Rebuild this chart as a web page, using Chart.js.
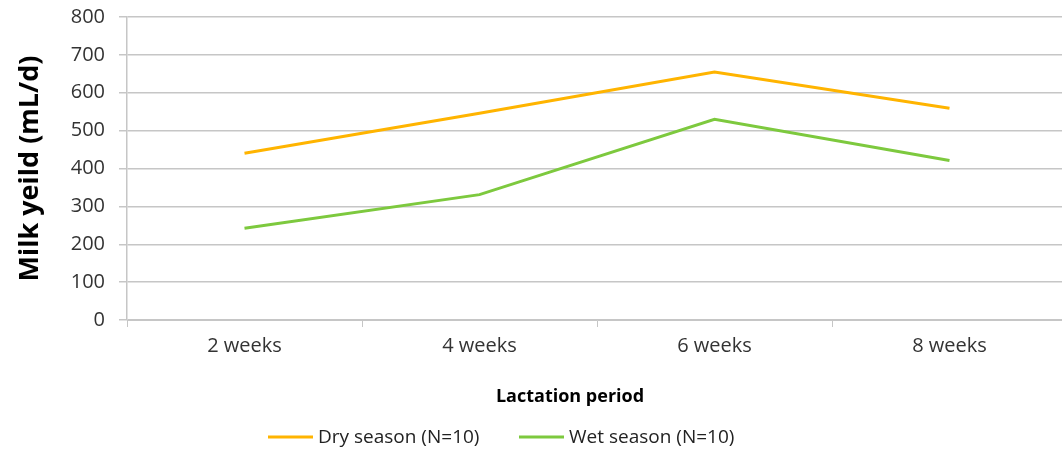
<!DOCTYPE html>
<html>
<head>
<meta charset="utf-8">
<script src="https://cdn.jsdelivr.net/npm/chart.js@4.4.0/dist/chart.umd.min.js"></script>
<style>
html,body{margin:0;padding:0;background:#fff;overflow:hidden;}
#wrap{width:1075px;height:454px;}
</style>
</head>
<body>
<div id="wrap"><canvas id="c" width="1075" height="454"></canvas></div>
<script>
const categories = ["2 weeks", "4 weeks", "6 weeks", "8 weeks"];
const drySeason = [440, 546, 655, 559];
const wetSeason = [242, 331, 530, 421];
const yTicks = [0, 100, 200, 300, 400, 500, 600, 700, 800];
const seriesNames = ["Dry season (N=10)", "Wet season (N=10)"];
const seriesColors = ["#FFB400", "#7DC93E"];
const xTitle = "Lactation period";
const yTitle = "Milk yeild (mL/d)";

const FONT = "'Open Sans', 'DejaVu Sans', sans-serif";
const gridColor = "#c6c6c6";

const customLegend = {
  id: "customLegend",
  afterDraw(chart) {
    const ctx = chart.ctx;
    ctx.save();
    ctx.font = "bold 18px " + FONT;
    ctx.fillStyle = "#000";
    ctx.textAlign = "center";
    ctx.textBaseline = "middle";
    ctx.fillText(xTitle, 570, 397);
    ctx.font = "19px " + FONT;
    ctx.textAlign = "left";
    let x = 268;
    chart.data.datasets.forEach((ds, i) => {
      ctx.strokeStyle = ds.borderColor;
      ctx.lineWidth = 3;
      ctx.beginPath();
      ctx.moveTo(x, 437);
      ctx.lineTo(x + 45, 437);
      ctx.stroke();
      ctx.fillStyle = "#222";
      ctx.fillText(ds.label, x + 50, 438);
      x = 519;
    });
    ctx.restore();
  }
};

new Chart(document.getElementById("c"), {
  type: "line",
  data: {
    labels: categories,
    datasets: [
      { label: seriesNames[0], data: drySeason, borderColor: seriesColors[0], backgroundColor: seriesColors[0], borderWidth: 3, pointRadius: 0, tension: 0 },
      { label: seriesNames[1], data: wetSeason, borderColor: seriesColors[1], backgroundColor: seriesColors[1], borderWidth: 3, pointRadius: 0, tension: 0 }
    ]
  },
  options: {
    responsive: false,
    animation: false,
    layout: { padding: { top: 17, right: 8, left: 0, bottom: 0 } },
    plugins: { legend: { display: false }, tooltip: { enabled: false } },
    scales: {
      x: {
        offset: true,
        grid: { offset: true, drawOnChartArea: false, drawTicks: true, tickLength: 7, color: gridColor, lineWidth: 1 },
        border: { display: true, color: gridColor, width: 1 },
        ticks: { font: { family: FONT, size: 20 }, color: "#333", padding: 7, maxRotation: 0 },
        afterFit(scale) { scale.height = 134; scale.paddingLeft = 0; scale.paddingRight = 0; }
      },
      y: {
        min: 0, max: 800,
        afterBuildTicks(scale) { scale.ticks = yTicks.map(v => ({ value: v })); },
        grid: { color: gridColor, lineWidth: 1.5, tickLength: 8 },
        border: { display: true, color: gridColor, width: 1.5 },
        ticks: { font: { family: FONT, size: 20 }, color: "#333", padding: 14 },
        title: { display: true, text: yTitle, font: { family: FONT, size: 27, weight: "bold" }, color: "#000", padding: { top: 14, bottom: 0 } },
        afterFit(scale) { scale.width = 127; scale.paddingTop = 0; scale.paddingBottom = 0; }
      }
    }
  },
  plugins: [customLegend]
});
</script>
</body>
</html>
